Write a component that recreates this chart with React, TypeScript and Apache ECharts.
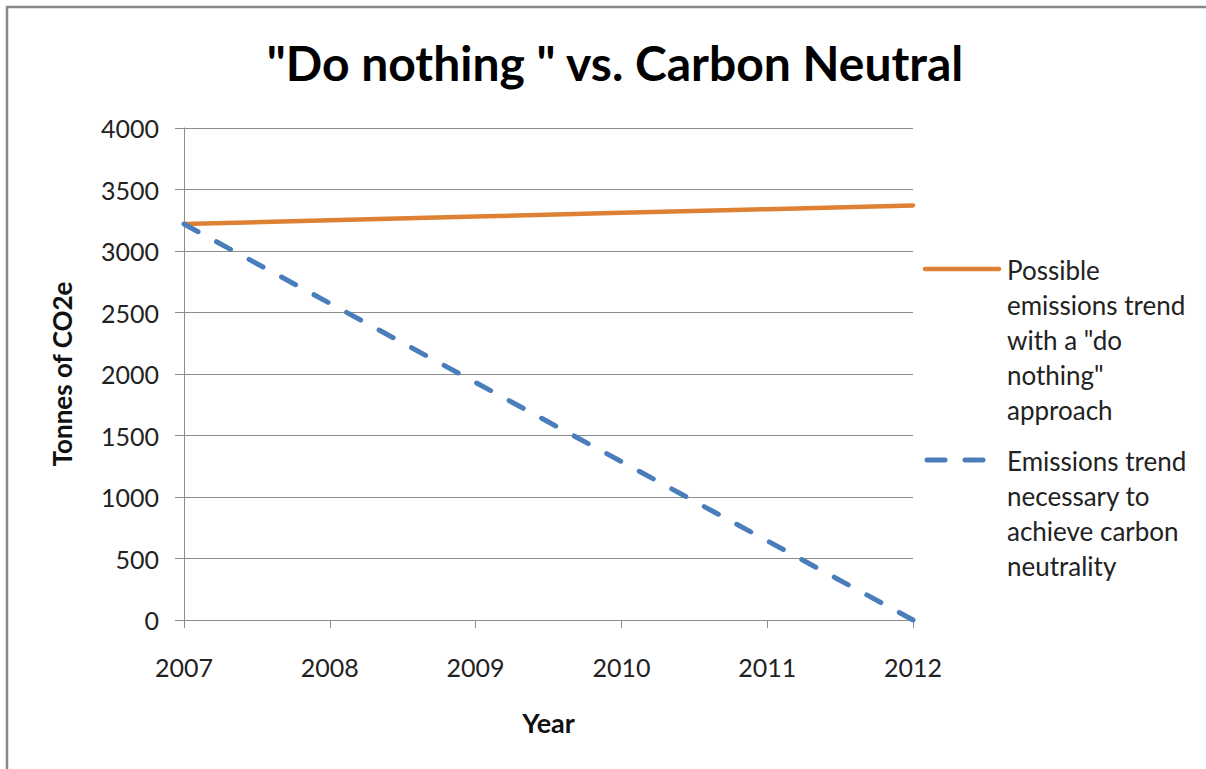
import React, { useEffect, useRef } from "react";
import * as echarts from "echarts";

const years = ["2007", "2008", "2009", "2010", "2011", "2012"];
const doNothing = [3219, 3250, 3280, 3310, 3340, 3370];
const carbonNeutral = [3219, 2575, 1931, 1288, 644, 0];
const seriesNames = [
  'Possible\nemissions trend\nwith a "do\nnothing"\napproach',
  "Emissions trend\nnecessary to\nachieve carbon\nneutrality",
];
const titleText = '"Do nothing " vs. Carbon Neutral';
const yName = "Tonnes of CO2e";
const xName = "Year";

const ORANGE = "#DF8134";
const BLUE = "#4A7EBB";
const GRID = "#8C8C8C";
const FONT = "Lato, 'Open Sans', sans-serif";

export default function App() {
  const ref = useRef<HTMLDivElement>(null);
  useEffect(() => {
    if (!ref.current) return;
    const chart = echarts.init(ref.current, undefined, { renderer: "svg" });
    chart.setOption({
      animation: false,
      backgroundColor: "#fff",
      textStyle: { fontFamily: FONT },
      title: {
        text: titleText,
        left: 610,
        textAlign: "center",
        top: 33,
        textStyle: { fontSize: 48, fontWeight: "bold", color: "#000", fontFamily: FONT },
      },
      grid: { left: 184, right: 293, top: 128, bottom: 149, containLabel: false },
      xAxis: {
        type: "category",
        data: years,
        boundaryGap: false,
        name: xName,
        nameLocation: "middle",
        nameGap: 89,
        nameTextStyle: { fontSize: 27, fontWeight: "bold", color: "#111", fontFamily: FONT },
        axisLine: { show: true, lineStyle: { color: GRID, width: 1 } },
        axisTick: { show: true, length: 8, lineStyle: { color: GRID } },
        axisLabel: { fontSize: 25, color: "#222", margin: 34, fontFamily: FONT },
        splitLine: { show: false },
      },
      yAxis: {
        type: "value",
        min: 0,
        max: 4000,
        interval: 500,
        name: yName,
        nameLocation: "middle",
        nameGap: 109,
        nameRotate: 90,
        nameTextStyle: { fontSize: 26, fontWeight: "bold", color: "#111", fontFamily: FONT },
        axisLine: { show: true, lineStyle: { color: GRID, width: 1 } },
        axisTick: { show: true, length: 9, lineStyle: { color: GRID } },
        axisLabel: {
          fontSize: 25,
          color: "#222",
          margin: 25,
          fontFamily: FONT,
          formatter: (v: number) => String(v),
        },
        splitLine: { show: true, lineStyle: { color: GRID, width: 1 } },
      },
      series: [
        {
          name: seriesNames[0],
          type: "line",
          data: doNothing,
          showSymbol: false,
          symbol: "none",
          lineStyle: { color: ORANGE, width: 4.5, cap: "round" },
          z: 3,
        },
        {
          name: seriesNames[1],
          type: "line",
          data: carbonNeutral,
          showSymbol: false,
          symbol: "none",
          lineStyle: { color: BLUE, width: 5, type: [16, 21], cap: "round" },
          z: 4,
        },
      ],
      graphic: [
        {
          type: "rect",
          shape: { x: 7, y: 7, width: 1400, height: 1000 },
          style: { fill: "none", stroke: "#888", lineWidth: 2.5 },
          silent: true,
        },
        {
          type: "line",
          shape: { x1: 925, y1: 269, x2: 999, y2: 269 },
          style: { stroke: ORANGE, lineWidth: 4.5, lineCap: "round" },
        },
        {
          type: "text",
          left: 1007,
          top: 252,
          style: {
            text: seriesNames[0],
            font: `26px ${FONT}`,
            fill: "#222",
            lineHeight: 35,
          },
        },
        {
          type: "line",
          shape: { x1: 927, y1: 460, x2: 945, y2: 460 },
          style: { stroke: BLUE, lineWidth: 5, lineCap: "round" },
        },
        {
          type: "line",
          shape: { x1: 965, y1: 460, x2: 983, y2: 460 },
          style: { stroke: BLUE, lineWidth: 5, lineCap: "round" },
        },
        {
          type: "text",
          left: 1007,
          top: 443,
          style: {
            text: seriesNames[1],
            font: `26px ${FONT}`,
            fill: "#222",
            lineHeight: 35,
          },
        },
      ],
    });
    return () => chart.dispose();
  }, []);
  return (
    <div
      ref={ref}
      style={{ position: "fixed", left: 0, top: 0, width: 1206, height: 769 }}
    />
  );
}
